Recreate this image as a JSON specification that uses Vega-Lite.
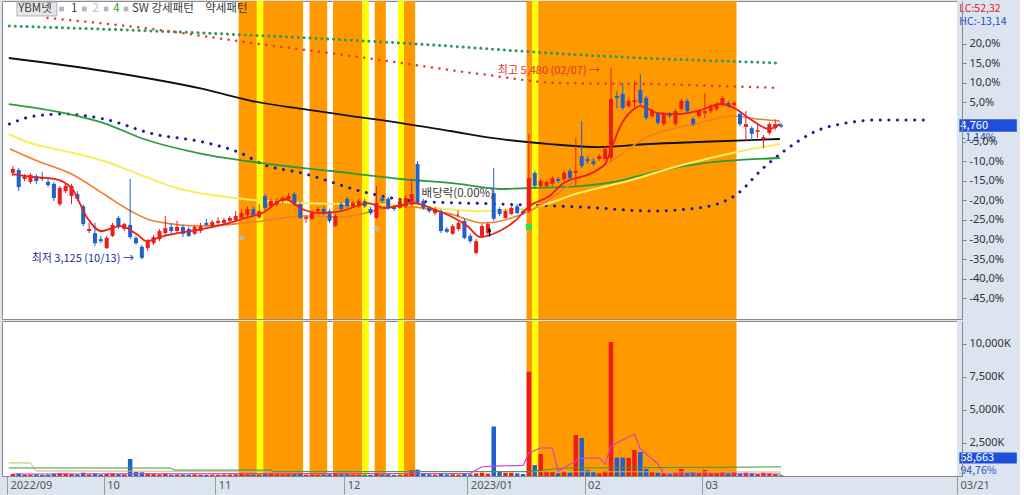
{
"$schema":"https://vega.github.io/schema/vega-lite/v6.json",
"background":"#dbe4ef",
"padding":{"left":1,"top":0,"right":0,"bottom":2},
"config":{"concat":{"spacing":0},"view":{"stroke":"#8c8c8c","fill":"#ffffff"},"font":"Noto Sans CJK KR","axis":{"labelFont":"Noto Sans","labelFontSize":11,"labelColor":"#333333","domainColor":"#888888","tickColor":"#888888","grid":false,"zindex":1}},
"datasets":{
"candles":[
{"i":1,"o":4190,"h":4275,"l":4150,"c":4240,"v":150},{"i":2,"o":4225,"h":4250,"l":3965,"c":4015,"v":200},{"i":3,"o":4115,"h":4175,"l":4090,"c":4150,"v":120},{"i":4,"o":4080,"h":4190,"l":4055,"c":4165,"v":110},{"i":5,"o":4150,"h":4175,"l":4055,"c":4090,"v":130},{"i":6,"o":4140,"h":4200,"l":4090,"c":4115,"v":90},{"i":7,"o":4080,"h":4115,"l":4015,"c":4040,"v":100},{"i":8,"o":4055,"h":4080,"l":3845,"c":3880,"v":180},{"i":9,"o":3805,"h":4030,"l":3780,"c":4005,"v":220},{"i":10,"o":3965,"h":4055,"l":3940,"c":4030,"v":200},
{"i":11,"o":3905,"h":4055,"l":3805,"c":4030,"v":150},{"i":12,"o":3930,"h":3965,"l":3845,"c":3870,"v":120},{"i":13,"o":3780,"h":3805,"l":3535,"c":3560,"v":250},{"i":14,"o":3475,"h":3575,"l":3450,"c":3500,"v":130},{"i":15,"o":3450,"h":3575,"l":3290,"c":3325,"v":200},{"i":16,"o":3375,"h":3415,"l":3325,"c":3350,"v":120},{"i":17,"o":3265,"h":3415,"l":3255,"c":3390,"v":180},{"i":18,"o":3415,"h":3575,"l":3400,"c":3550,"v":200},{"i":19,"o":3635,"h":3660,"l":3500,"c":3525,"v":150},{"i":20,"o":3500,"h":3575,"l":3475,"c":3560,"v":130},
{"i":21,"o":3550,"h":4115,"l":3375,"c":3400,"v":1290},{"i":22,"o":3390,"h":3415,"l":3305,"c":3325,"v":300},{"i":23,"o":3280,"h":3305,"l":3125,"c":3145,"v":280},{"i":24,"o":3265,"h":3375,"l":3230,"c":3350,"v":200},{"i":25,"o":3325,"h":3425,"l":3305,"c":3400,"v":150},{"i":26,"o":3375,"h":3500,"l":3350,"c":3475,"v":120},{"i":27,"o":3450,"h":3660,"l":3415,"c":3510,"v":180},{"i":28,"o":3525,"h":3575,"l":3440,"c":3475,"v":100},{"i":29,"o":3475,"h":3600,"l":3450,"c":3525,"v":120},{"i":30,"o":3525,"h":3550,"l":3400,"c":3440,"v":110},
{"i":31,"o":3500,"h":3525,"l":3400,"c":3415,"v":100},{"i":32,"o":3440,"h":3550,"l":3425,"c":3525,"v":120},{"i":33,"o":3475,"h":3575,"l":3450,"c":3535,"v":90},{"i":34,"o":3575,"h":3625,"l":3535,"c":3550,"v":80},{"i":35,"o":3535,"h":3610,"l":3510,"c":3585,"v":100},{"i":36,"o":3575,"h":3645,"l":3550,"c":3600,"v":90},{"i":37,"o":3575,"h":3635,"l":3550,"c":3610,"v":100},{"i":38,"o":3600,"h":3660,"l":3575,"c":3635,"v":110},{"i":39,"o":3610,"h":3720,"l":3585,"c":3660,"v":120},{"i":40,"o":3635,"h":3745,"l":3610,"c":3695,"v":150},
{"i":41,"o":3670,"h":3780,"l":3645,"c":3745,"v":130},{"i":42,"o":3745,"h":3780,"l":3645,"c":3670,"v":100},{"i":43,"o":3645,"h":3805,"l":3625,"c":3720,"v":120},{"i":44,"o":3905,"h":3930,"l":3735,"c":3760,"v":200},{"i":45,"o":3780,"h":3870,"l":3760,"c":3845,"v":150},{"i":46,"o":3805,"h":3880,"l":3780,"c":3845,"v":120},{"i":47,"o":3845,"h":3905,"l":3820,"c":3880,"v":110},{"i":48,"o":3870,"h":3940,"l":3845,"c":3905,"v":120},{"i":49,"o":3930,"h":3955,"l":3780,"c":3805,"v":130},{"i":50,"o":3805,"h":3830,"l":3625,"c":3635,"v":180},
{"i":51,"o":3625,"h":3670,"l":3575,"c":3645,"v":100},{"i":52,"o":3625,"h":3720,"l":3610,"c":3695,"v":110},{"i":53,"o":3720,"h":3770,"l":3695,"c":3745,"v":90},{"i":54,"o":3745,"h":3780,"l":3670,"c":3685,"v":100},{"i":55,"o":3720,"h":3745,"l":3575,"c":3600,"v":130},{"i":56,"o":3535,"h":3685,"l":3525,"c":3660,"v":150},{"i":57,"o":3805,"h":3830,"l":3720,"c":3745,"v":120},{"i":58,"o":3870,"h":3895,"l":3760,"c":3780,"v":130},{"i":59,"o":3780,"h":3845,"l":3770,"c":3820,"v":90},{"i":60,"o":3780,"h":3870,"l":3760,"c":3845,"v":100},
{"i":61,"o":3845,"h":3870,"l":3760,"c":3780,"v":100},{"i":62,"o":3745,"h":3770,"l":3670,"c":3695,"v":90},{"i":63,"o":3635,"h":4030,"l":3625,"c":3820,"v":200},{"i":64,"o":3880,"h":3905,"l":3820,"c":3845,"v":110},{"i":65,"o":3870,"h":3895,"l":3735,"c":3760,"v":130},{"i":66,"o":3770,"h":3795,"l":3720,"c":3745,"v":90},{"i":67,"o":3760,"h":3870,"l":3745,"c":3845,"v":100},{"i":68,"o":3780,"h":3905,"l":3760,"c":3880,"v":120},{"i":69,"o":3805,"h":4115,"l":3780,"c":3930,"v":450},{"i":70,"o":4300,"h":4335,"l":3795,"c":3820,"v":480},
{"i":71,"o":3845,"h":3870,"l":3735,"c":3760,"v":200},{"i":72,"o":3760,"h":3780,"l":3695,"c":3720,"v":130},{"i":73,"o":3695,"h":3770,"l":3670,"c":3745,"v":110},{"i":74,"o":3720,"h":3745,"l":3450,"c":3475,"v":200},{"i":75,"o":3500,"h":3525,"l":3450,"c":3465,"v":120},{"i":76,"o":3440,"h":3560,"l":3425,"c":3535,"v":130},{"i":77,"o":3500,"h":3600,"l":3475,"c":3575,"v":110},{"i":78,"o":3600,"h":3625,"l":3375,"c":3390,"v":150},{"i":79,"o":3415,"h":3440,"l":3325,"c":3350,"v":130},{"i":80,"o":3205,"h":3375,"l":3190,"c":3350,"v":200},
{"i":81,"o":3415,"h":3560,"l":3390,"c":3535,"v":250},{"i":82,"o":3450,"h":3585,"l":3425,"c":3560,"v":180},{"i":83,"o":3940,"h":4250,"l":3600,"c":3625,"v":3750},{"i":84,"o":3745,"h":3770,"l":3660,"c":3685,"v":300},{"i":85,"o":3635,"h":3745,"l":3625,"c":3720,"v":250},{"i":86,"o":3685,"h":3780,"l":3670,"c":3760,"v":250},{"i":87,"o":3780,"h":3805,"l":3685,"c":3695,"v":200},{"i":88,"o":3720,"h":3745,"l":3670,"c":3695,"v":150},{"i":89,"o":3720,"h":4670,"l":3695,"c":4125,"v":7900},{"i":90,"o":4190,"h":4215,"l":4005,"c":4030,"v":830},
{"i":91,"o":4030,"h":4115,"l":4005,"c":4090,"v":1660},{"i":92,"o":4030,"h":4100,"l":4005,"c":4080,"v":350},{"i":93,"o":4055,"h":4150,"l":4030,"c":4125,"v":300},{"i":94,"o":4115,"h":4140,"l":4065,"c":4090,"v":200},{"i":95,"o":4115,"h":4215,"l":4090,"c":4190,"v":350},{"i":96,"o":4215,"h":4240,"l":4100,"c":4125,"v":250},{"i":97,"o":4190,"h":4620,"l":4030,"c":4215,"v":3100},{"i":98,"o":4395,"h":4830,"l":4250,"c":4275,"v":2880},{"i":99,"o":4360,"h":4395,"l":4300,"c":4335,"v":450},{"i":100,"o":4335,"h":4375,"l":4275,"c":4300,"v":300},
{"i":101,"o":4360,"h":4420,"l":4335,"c":4395,"v":200},{"i":102,"o":4360,"h":4520,"l":4335,"c":4485,"v":380},{"i":103,"o":4375,"h":5480,"l":4335,"c":5100,"v":10150},{"i":104,"o":5135,"h":5195,"l":4990,"c":5110,"v":1390},{"i":105,"o":5160,"h":5295,"l":4965,"c":4990,"v":1390},{"i":106,"o":5010,"h":5100,"l":4990,"c":5075,"v":1370},{"i":107,"o":5060,"h":5320,"l":4990,"c":5085,"v":1970},{"i":108,"o":5210,"h":5405,"l":5025,"c":5050,"v":1820},{"i":109,"o":5110,"h":5135,"l":4840,"c":4865,"v":530},{"i":110,"o":4890,"h":4975,"l":4865,"c":4950,"v":300},
{"i":111,"o":4915,"h":4940,"l":4780,"c":4805,"v":250},{"i":112,"o":4790,"h":4940,"l":4765,"c":4915,"v":200},{"i":113,"o":4915,"h":4940,"l":4865,"c":4890,"v":150},{"i":114,"o":4790,"h":4975,"l":4765,"c":4950,"v":250},{"i":115,"o":4975,"h":5100,"l":4950,"c":5075,"v":530},{"i":116,"o":5075,"h":5100,"l":4925,"c":4950,"v":250},{"i":117,"o":4855,"h":4875,"l":4765,"c":4790,"v":300},{"i":118,"o":4890,"h":4975,"l":4865,"c":4950,"v":250},{"i":119,"o":4925,"h":5170,"l":4865,"c":4950,"v":450},{"i":120,"o":4950,"h":5035,"l":4925,"c":5010,"v":250},
{"i":121,"o":4975,"h":5060,"l":4950,"c":5035,"v":250},{"i":122,"o":5035,"h":5135,"l":5010,"c":5110,"v":300},{"i":123,"o":5050,"h":5075,"l":4990,"c":5010,"v":250},{"i":124,"o":5025,"h":5075,"l":5000,"c":5050,"v":300},{"i":125,"o":4915,"h":4940,"l":4765,"c":4790,"v":200},{"i":126,"o":4755,"h":4950,"l":4580,"c":4790,"v":250},{"i":127,"o":4740,"h":4765,"l":4580,"c":4670,"v":200},{"i":128,"o":4695,"h":4780,"l":4620,"c":4715,"v":150},{"i":129,"o":4605,"h":4655,"l":4495,"c":4630,"v":250},{"i":130,"o":4680,"h":4815,"l":4655,"c":4790,"v":200},
{"i":131,"o":4740,"h":4850,"l":4715,"c":4790,"v":150},{"i":132,"o":4780,"h":4805,"l":4740,"c":4760,"v":59}
],
"bands":[
{"i":39.5,"i2":42.6,"k":"강세"},{"i":42.6,"i2":43.7,"k":"신호"},{"i":43.7,"i2":50.5,"k":"강세"},{"i":51.6,"i2":54.6,"k":"강세"},{"i":55.6,"i2":60.6,"k":"강세"},{"i":60.6,"i2":61.7,"k":"신호"},{"i":62.7,"i2":64.6,"k":"강세"},{"i":66.7,"i2":67.7,"k":"신호"},{"i":67.7,"i2":69.6,"k":"강세"},{"i":88.6,"i2":89.6,"k":"강세"},{"i":89.6,"i2":90.6,"k":"신호"},{"i":90.6,"i2":124.4,"k":"강세"}
],
"ma240":[{"i":0.3,"p":5603},{"i":16.5,"p":5443},{"i":33.4,"p":5222},{"i":41.8,"p":5074},{"i":50.3,"p":4976},{"i":58.7,"p":4889},{"i":67.2,"p":4803},{"i":75.6,"p":4705},{"i":84,"p":4607},{"i":92.5,"p":4545},{"i":100.9,"p":4508},{"i":109.4,"p":4545},{"i":117.8,"p":4570},{"i":131.8,"p":4607}],
"ma120":[{"i":0.3,"p":5037},{"i":9.8,"p":4926},{"i":16.5,"p":4803},{"i":23.3,"p":4607},{"i":33.4,"p":4422},{"i":43.5,"p":4311},{"i":55.3,"p":4213},{"i":67.2,"p":4115},{"i":77.3,"p":4053},{"i":84,"p":3992},{"i":89.1,"p":4004},{"i":97.5,"p":4028},{"i":104.3,"p":4090},{"i":111,"p":4213},{"i":117.8,"p":4299},{"i":131.8,"p":4373}],
"ma60":[{"i":0.3,"p":4668},{"i":3,"p":4582},{"i":9.8,"p":4459},{"i":16.5,"p":4336},{"i":23.3,"p":4151},{"i":28.9,"p":4004},{"i":39,"p":3881},{"i":50.3,"p":3819},{"i":67.2,"p":3795},{"i":80.7,"p":3721},{"i":89.1,"p":3758},{"i":97.5,"p":3942},{"i":107.7,"p":4127},{"i":111.5,"p":4213},{"i":117.8,"p":4336},{"i":124.5,"p":4447},{"i":131.8,"p":4545}],
"ma20":[{"i":0.5,"p":4484},{"i":5.2,"p":4336},{"i":11,"p":4176},{"i":16.5,"p":3930},{"i":21.1,"p":3721},{"i":25,"p":3598},{"i":33.4,"p":3536},{"i":43.5,"p":3598},{"i":50.3,"p":3659},{"i":57,"p":3647},{"i":67.2,"p":3782},{"i":75.6,"p":3684},{"i":81.2,"p":3573},{"i":89.1,"p":3721},{"i":97.5,"p":4115},{"i":103.1,"p":4336},{"i":108.8,"p":4619},{"i":117.3,"p":4791},{"i":124,"p":4889},{"i":127.9,"p":4853},{"i":131.8,"p":4828}],
"ma5":[{"i":0.84,"p":4176},{"i":4.7,"p":4139},{"i":8.1,"p":4115},{"i":11,"p":4004},{"i":13.7,"p":3635},{"i":16,"p":3475},{"i":19.4,"p":3536},{"i":22.1,"p":3438},{"i":23.8,"p":3352},{"i":26.7,"p":3413},{"i":33.4,"p":3500},{"i":39,"p":3598},{"i":41.8,"p":3659},{"i":43.5,"p":3696},{"i":47.4,"p":3869},{"i":50.3,"p":3746},{"i":53.2,"p":3696},{"i":57,"p":3721},{"i":61.6,"p":3819},{"i":64.3,"p":3758},{"i":69.4,"p":3819},{"i":72.7,"p":3746},{"i":75.6,"p":3659},{"i":78.5,"p":3536},{"i":80.7,"p":3401},{"i":84,"p":3475},{"i":86.6,"p":3598},{"i":89.1,"p":3782},{"i":92.5,"p":3905},{"i":94.7,"p":4053},{"i":100.4,"p":4213},{"i":102.1,"p":4311},{"i":103.1,"p":4496},{"i":104.6,"p":4766},{"i":106.5,"p":4951},{"i":108,"p":5012},{"i":111,"p":4926},{"i":114.4,"p":4914},{"i":117.8,"p":4951},{"i":121.7,"p":5037},{"i":124,"p":4988},{"i":126.7,"p":4853},{"i":130,"p":4730},{"i":131.8,"p":4791}],
"dotg":[{"i":0.4,"p":5996},{"i":33.4,"p":5910},{"i":67.2,"p":5787},{"i":100.9,"p":5628},{"i":131.8,"p":5541}],
"dotr":[{"i":6.9,"p":6095},{"i":23.3,"p":5972},{"i":41.8,"p":5787},{"i":58.7,"p":5628},{"i":80.7,"p":5406},{"i":94.2,"p":5295},{"i":109.4,"p":5283},{"i":131.8,"p":5234}],
"dotb":[{"i":0.4,"p":4791},{"i":4.7,"p":4889},{"i":9.8,"p":4914},{"i":16.5,"p":4853},{"i":25,"p":4668},{"i":33.4,"p":4570},{"i":40.2,"p":4422},{"i":43.5,"p":4299},{"i":50.3,"p":4188},{"i":61.6,"p":3942},{"i":69.4,"p":3844},{"i":84,"p":3807},{"i":100.9,"p":3758},{"i":109.4,"p":3721},{"i":117.8,"p":3758},{"i":124.5,"p":3930},{"i":128.8,"p":4238},{"i":133,"p":4484},{"i":138,"p":4705},{"i":143.1,"p":4803},{"i":148.2,"p":4840},{"i":156.6,"p":4840}],
"vpink":[{"i":1,"v":150},{"i":79,"v":200},{"i":81,"v":700},{"i":84,"v":760},{"i":88,"v":800},{"i":89,"v":1740},{"i":91,"v":2120},{"i":93,"v":2120},{"i":94,"v":380},{"i":97,"v":1140},{"i":98,"v":1360},{"i":101,"v":1360},{"i":102,"v":910},{"i":103,"v":2270},{"i":107,"v":3180},{"i":108,"v":2045},{"i":111,"v":910},{"i":112,"v":150},{"i":132,"v":150}],
"vgreen":[{"i":0.3,"v":610},{"i":28,"v":600},{"i":28.5,"v":450},{"i":45,"v":450},{"i":45.5,"v":330},{"i":89,"v":330},{"i":95,"v":600},{"i":132,"v":690}],
"volive":[{"i":0.3,"v":990},{"i":4,"v":990},{"i":5,"v":380},{"i":132,"v":300}]
},
"vconcat":[
{
"width":960,"height":318,
"layer":[
{"data":{"values":[{"i":162,"i2":172.5,"p":2393,"p2":6304}]},"mark":{"type":"rect","color":"#dbe4ef"},"encoding":{"x":{"field":"i","type":"quantitative","scale":{"domain":[0,162],"nice":false,"zero":false},"axis":null},"x2":{"field":"i2"},"y":{"field":"p","type":"quantitative","scale":{"domain":[2393,6304],"nice":false,"zero":false},"axis":{"orient":"right","zindex":1,"values":[2648.25,2889,3129.75,3370.5,3611.25,3852,4092.75,4333.5,4574.25,5055.75,5296.5,5537.25,5778],"labelExpr":"(datum.value < 4814 ? '-' : '') + replace(format(abs(datum.value/4815-1)*100, '.1f'), '.', ',') + '%'","tickSize":4,"labelPadding":3,"title":null}},"y2":{"field":"p2"}}},
{"data":{"name":"bands"},"mark":{"type":"rect"},"encoding":{"x":{"field":"i","type":"quantitative","scale":{"domain":[0,162],"nice":false,"zero":false},"axis":null},"x2":{"field":"i2"},"color":{"field":"k","type":"nominal","scale":{"domain":["강세","신호"],"range":["#ff9900","#ffff00"]},"legend":null}}},
{"data":{"name":"dotg"},"mark":{"type":"line","color":"#2f9a5c","strokeWidth":3,"strokeDash":[0.1,5.8],"strokeCap":"round","interpolate":"monotone"},"encoding":{"x":{"field":"i","type":"quantitative","scale":{"domain":[0,162],"nice":false,"zero":false},"axis":null},"y":{"field":"p","type":"quantitative","scale":{"domain":[2393,6304],"nice":false,"zero":false},"axis":{"orient":"right","zindex":1,"values":[2648.25,2889,3129.75,3370.5,3611.25,3852,4092.75,4333.5,4574.25,5055.75,5296.5,5537.25,5778],"labelExpr":"(datum.value < 4814 ? '-' : '') + replace(format(abs(datum.value/4815-1)*100, '.1f'), '.', ',') + '%'","tickSize":4,"labelPadding":3,"title":null}}}},
{"data":{"name":"dotr"},"mark":{"type":"line","color":"#e03a3a","strokeWidth":2.5,"strokeDash":[0.1,7.5],"strokeCap":"round","interpolate":"monotone"},"encoding":{"x":{"field":"i","type":"quantitative","scale":{"domain":[0,162],"nice":false,"zero":false},"axis":null},"y":{"field":"p","type":"quantitative","scale":{"domain":[2393,6304],"nice":false,"zero":false},"axis":{"orient":"right","zindex":1,"values":[2648.25,2889,3129.75,3370.5,3611.25,3852,4092.75,4333.5,4574.25,5055.75,5296.5,5537.25,5778],"labelExpr":"(datum.value < 4814 ? '-' : '') + replace(format(abs(datum.value/4815-1)*100, '.1f'), '.', ',') + '%'","tickSize":4,"labelPadding":3,"title":null}}}},
{"data":{"name":"dotb"},"mark":{"type":"line","color":"#1c1c9c","strokeWidth":3,"strokeDash":[0.1,8.5],"strokeCap":"round","interpolate":"monotone"},"encoding":{"x":{"field":"i","type":"quantitative","scale":{"domain":[0,162],"nice":false,"zero":false},"axis":null},"y":{"field":"p","type":"quantitative","scale":{"domain":[2393,6304],"nice":false,"zero":false},"axis":{"orient":"right","zindex":1,"values":[2648.25,2889,3129.75,3370.5,3611.25,3852,4092.75,4333.5,4574.25,5055.75,5296.5,5537.25,5778],"labelExpr":"(datum.value < 4814 ? '-' : '') + replace(format(abs(datum.value/4815-1)*100, '.1f'), '.', ',') + '%'","tickSize":4,"labelPadding":3,"title":null}}}},
{"data":{"name":"ma240"},"mark":{"type":"line","color":"#111111","strokeWidth":1.8,"interpolate":"monotone"},"encoding":{"x":{"field":"i","type":"quantitative","scale":{"domain":[0,162],"nice":false,"zero":false},"axis":null},"y":{"field":"p","type":"quantitative","scale":{"domain":[2393,6304],"nice":false,"zero":false},"axis":{"orient":"right","zindex":1,"values":[2648.25,2889,3129.75,3370.5,3611.25,3852,4092.75,4333.5,4574.25,5055.75,5296.5,5537.25,5778],"labelExpr":"(datum.value < 4814 ? '-' : '') + replace(format(abs(datum.value/4815-1)*100, '.1f'), '.', ',') + '%'","tickSize":4,"labelPadding":3,"title":null}}}},
{"data":{"name":"ma120"},"mark":{"type":"line","color":"#2e9a3a","strokeWidth":1.8,"interpolate":"monotone"},"encoding":{"x":{"field":"i","type":"quantitative","scale":{"domain":[0,162],"nice":false,"zero":false},"axis":null},"y":{"field":"p","type":"quantitative","scale":{"domain":[2393,6304],"nice":false,"zero":false},"axis":{"orient":"right","zindex":1,"values":[2648.25,2889,3129.75,3370.5,3611.25,3852,4092.75,4333.5,4574.25,5055.75,5296.5,5537.25,5778],"labelExpr":"(datum.value < 4814 ? '-' : '') + replace(format(abs(datum.value/4815-1)*100, '.1f'), '.', ',') + '%'","tickSize":4,"labelPadding":3,"title":null}}}},
{"data":{"name":"ma60"},"mark":{"type":"line","color":"#f4ee60","strokeWidth":2,"interpolate":"monotone"},"encoding":{"x":{"field":"i","type":"quantitative","scale":{"domain":[0,162],"nice":false,"zero":false},"axis":null},"y":{"field":"p","type":"quantitative","scale":{"domain":[2393,6304],"nice":false,"zero":false},"axis":{"orient":"right","zindex":1,"values":[2648.25,2889,3129.75,3370.5,3611.25,3852,4092.75,4333.5,4574.25,5055.75,5296.5,5537.25,5778],"labelExpr":"(datum.value < 4814 ? '-' : '') + replace(format(abs(datum.value/4815-1)*100, '.1f'), '.', ',') + '%'","tickSize":4,"labelPadding":3,"title":null}}}},
{"data":{"name":"ma20"},"mark":{"type":"line","color":"#f07d2a","strokeWidth":1.6,"interpolate":"monotone"},"encoding":{"x":{"field":"i","type":"quantitative","scale":{"domain":[0,162],"nice":false,"zero":false},"axis":null},"y":{"field":"p","type":"quantitative","scale":{"domain":[2393,6304],"nice":false,"zero":false},"axis":{"orient":"right","zindex":1,"values":[2648.25,2889,3129.75,3370.5,3611.25,3852,4092.75,4333.5,4574.25,5055.75,5296.5,5537.25,5778],"labelExpr":"(datum.value < 4814 ? '-' : '') + replace(format(abs(datum.value/4815-1)*100, '.1f'), '.', ',') + '%'","tickSize":4,"labelPadding":3,"title":null}}}},
{"data":{"name":"candles"},"mark":{"type":"rule","strokeWidth":1},"encoding":{"x":{"field":"i","type":"quantitative","scale":{"domain":[0,162],"nice":false,"zero":false},"axis":null},"y":{"field":"l","type":"quantitative","scale":{"domain":[2393,6304],"nice":false,"zero":false},"axis":{"orient":"right","zindex":1,"values":[2648.25,2889,3129.75,3370.5,3611.25,3852,4092.75,4333.5,4574.25,5055.75,5296.5,5537.25,5778],"labelExpr":"(datum.value < 4814 ? '-' : '') + replace(format(abs(datum.value/4815-1)*100, '.1f'), '.', ',') + '%'","tickSize":4,"labelPadding":3,"title":null}},"y2":{"field":"h"},"color":{"condition":{"test":"datum.c >= datum.o","value":"#ee1c1c"},"value":"#2060d0"}}},
{"data":{"name":"candles"},"mark":{"type":"bar","size":4,"orient":"vertical"},"encoding":{"x":{"field":"i","type":"quantitative","scale":{"domain":[0,162],"nice":false,"zero":false},"axis":null},"y":{"field":"o","type":"quantitative","scale":{"domain":[2393,6304],"nice":false,"zero":false},"axis":{"orient":"right","zindex":1,"values":[2648.25,2889,3129.75,3370.5,3611.25,3852,4092.75,4333.5,4574.25,5055.75,5296.5,5537.25,5778],"labelExpr":"(datum.value < 4814 ? '-' : '') + replace(format(abs(datum.value/4815-1)*100, '.1f'), '.', ',') + '%'","tickSize":4,"labelPadding":3,"title":null}},"y2":{"field":"c"},"color":{"condition":{"test":"datum.c >= datum.o","value":"#ee1c1c"},"value":"#2060d0"}}},
{"data":{"name":"ma5"},"mark":{"type":"line","color":"#e8201a","strokeWidth":1.8,"interpolate":"monotone"},"encoding":{"x":{"field":"i","type":"quantitative","scale":{"domain":[0,162],"nice":false,"zero":false},"axis":null},"y":{"field":"p","type":"quantitative","scale":{"domain":[2393,6304],"nice":false,"zero":false},"axis":{"orient":"right","zindex":1,"values":[2648.25,2889,3129.75,3370.5,3611.25,3852,4092.75,4333.5,4574.25,5055.75,5296.5,5537.25,5778],"labelExpr":"(datum.value < 4814 ? '-' : '') + replace(format(abs(datum.value/4815-1)*100, '.1f'), '.', ',') + '%'","tickSize":4,"labelPadding":3,"title":null}}}},
{"data":{"values":[{"i":40,"p":3389},{"i":63,"p":3500}]},"mark":{"type":"point","shape":"M0,-1L0.22,-0.31L0.95,-0.31L0.36,0.12L0.59,0.81L0,0.38L-0.59,0.81L-0.36,0.12L-0.95,-0.31L-0.22,-0.31Z","filled":true,"color":"#b8bccb","size":70,"opacity":1},"encoding":{"x":{"field":"i","type":"quantitative","scale":{"domain":[0,162],"nice":false,"zero":false},"axis":null},"y":{"field":"p","type":"quantitative","scale":{"domain":[2393,6304],"nice":false,"zero":false},"axis":{"orient":"right","zindex":1,"values":[2648.25,2889,3129.75,3370.5,3611.25,3852,4092.75,4333.5,4574.25,5055.75,5296.5,5537.25,5778],"labelExpr":"(datum.value < 4814 ? '-' : '') + replace(format(abs(datum.value/4815-1)*100, '.1f'), '.', ',') + '%'","tickSize":4,"labelPadding":3,"title":null}}}},
{"data":{"values":[{"i":82.3,"p":3463}]},"mark":{"type":"point","shape":"arrow","filled":true,"color":"#000000","size":80,"opacity":1},"encoding":{"x":{"field":"i","type":"quantitative","scale":{"domain":[0,162],"nice":false,"zero":false},"axis":null},"y":{"field":"p","type":"quantitative","scale":{"domain":[2393,6304],"nice":false,"zero":false},"axis":{"orient":"right","zindex":1,"values":[2648.25,2889,3129.75,3370.5,3611.25,3852,4092.75,4333.5,4574.25,5055.75,5296.5,5537.25,5778],"labelExpr":"(datum.value < 4814 ? '-' : '') + replace(format(abs(datum.value/4815-1)*100, '.1f'), '.', ',') + '%'","tickSize":4,"labelPadding":3,"title":null}}}},
{"data":{"values":[{"i":76.9,"p":3684}]},"mark":{"type":"point","shape":"arrow","angle":180,"filled":true,"color":"#e02020","size":50,"opacity":1},"encoding":{"x":{"field":"i","type":"quantitative","scale":{"domain":[0,162],"nice":false,"zero":false},"axis":null},"y":{"field":"p","type":"quantitative","scale":{"domain":[2393,6304],"nice":false,"zero":false},"axis":{"orient":"right","zindex":1,"values":[2648.25,2889,3129.75,3370.5,3611.25,3852,4092.75,4333.5,4574.25,5055.75,5296.5,5537.25,5778],"labelExpr":"(datum.value < 4814 ? '-' : '') + replace(format(abs(datum.value/4815-1)*100, '.1f'), '.', ',') + '%'","tickSize":4,"labelPadding":3,"title":null}}}},
{"data":{"values":[{"i":89,"p":3524}]},"mark":{"type":"point","shape":"square","filled":true,"color":"#33dd44","size":40,"opacity":1},"encoding":{"x":{"field":"i","type":"quantitative","scale":{"domain":[0,162],"nice":false,"zero":false},"axis":null},"y":{"field":"p","type":"quantitative","scale":{"domain":[2393,6304],"nice":false,"zero":false},"axis":{"orient":"right","zindex":1,"values":[2648.25,2889,3129.75,3370.5,3611.25,3852,4092.75,4333.5,4574.25,5055.75,5296.5,5537.25,5778],"labelExpr":"(datum.value < 4814 ? '-' : '') + replace(format(abs(datum.value/4815-1)*100, '.1f'), '.', ',') + '%'","tickSize":4,"labelPadding":3,"title":null}}}},
{"data":{"values":[{"i":1.7,"i2":8.5,"p":6120,"p2":6292}]},"mark":{"type":"rect","color":"#e6e6e6","stroke":"#b0b0b0","strokeWidth":1},"encoding":{"x":{"field":"i","type":"quantitative","scale":{"domain":[0,162],"nice":false,"zero":false},"axis":null},"x2":{"field":"i2"},"y":{"field":"p","type":"quantitative","scale":{"domain":[2393,6304],"nice":false,"zero":false},"axis":{"orient":"right","zindex":1,"values":[2648.25,2889,3129.75,3370.5,3611.25,3852,4092.75,4333.5,4574.25,5055.75,5296.5,5537.25,5778],"labelExpr":"(datum.value < 4814 ? '-' : '') + replace(format(abs(datum.value/4815-1)*100, '.1f'), '.', ',') + '%'","tickSize":4,"labelPadding":3,"title":null}},"y2":{"field":"p2"}}},
{"data":{"values":[{"i":162.4,"i2":172.2,"p":4696,"p2":4849}]},"mark":{"type":"rect","color":"#1f4fd8"},"encoding":{"x":{"field":"i","type":"quantitative","scale":{"domain":[0,162],"nice":false,"zero":false},"axis":null},"x2":{"field":"i2"},"y":{"field":"p","type":"quantitative","scale":{"domain":[2393,6304],"nice":false,"zero":false},"axis":{"orient":"right","zindex":1,"values":[2648.25,2889,3129.75,3370.5,3611.25,3852,4092.75,4333.5,4574.25,5055.75,5296.5,5537.25,5778],"labelExpr":"(datum.value < 4814 ? '-' : '') + replace(format(abs(datum.value/4815-1)*100, '.1f'), '.', ',') + '%'","tickSize":4,"labelPadding":3,"title":null}},"y2":{"field":"p2"}}},
{"data":{"values":[{"i":9.3,"p":6206},{"i":13.2,"p":6206},{"i":16.9,"p":6206},{"i":20.3,"p":6206}]},"mark":{"type":"point","shape":"square","filled":true,"color":"#b4b4c4","size":22,"opacity":1},"encoding":{"x":{"field":"i","type":"quantitative","scale":{"domain":[0,162],"nice":false,"zero":false},"axis":null},"y":{"field":"p","type":"quantitative","scale":{"domain":[2393,6304],"nice":false,"zero":false},"axis":{"orient":"right","zindex":1,"values":[2648.25,2889,3129.75,3370.5,3611.25,3852,4092.75,4333.5,4574.25,5055.75,5296.5,5537.25,5778],"labelExpr":"(datum.value < 4814 ? '-' : '') + replace(format(abs(datum.value/4815-1)*100, '.1f'), '.', ',') + '%'","tickSize":4,"labelPadding":3,"title":null}}}},
{"data":{"values":[{"i":4.2,"p":3130,"t":"최저 3,125 (10/13) →"}]},"mark":{"type":"text","align":"left","baseline":"middle","fontSize":11,"color":"#1a2b9b"},"encoding":{"x":{"field":"i","type":"quantitative","scale":{"domain":[0,162],"nice":false,"zero":false},"axis":null},"y":{"field":"p","type":"quantitative","scale":{"domain":[2393,6304],"nice":false,"zero":false},"axis":{"orient":"right","zindex":1,"values":[2648.25,2889,3129.75,3370.5,3611.25,3852,4092.75,4333.5,4574.25,5055.75,5296.5,5537.25,5778],"labelExpr":"(datum.value < 4814 ? '-' : '') + replace(format(abs(datum.value/4815-1)*100, '.1f'), '.', ',') + '%'","tickSize":4,"labelPadding":3,"title":null}},"text":{"field":"t"}}},
{"data":{"values":[{"i":83.7,"p":5443,"t":"최고 5,480 (02/07) →"}]},"mark":{"type":"text","align":"left","baseline":"middle","fontSize":11,"color":"#e03030"},"encoding":{"x":{"field":"i","type":"quantitative","scale":{"domain":[0,162],"nice":false,"zero":false},"axis":null},"y":{"field":"p","type":"quantitative","scale":{"domain":[2393,6304],"nice":false,"zero":false},"axis":{"orient":"right","zindex":1,"values":[2648.25,2889,3129.75,3370.5,3611.25,3852,4092.75,4333.5,4574.25,5055.75,5296.5,5537.25,5778],"labelExpr":"(datum.value < 4814 ? '-' : '') + replace(format(abs(datum.value/4815-1)*100, '.1f'), '.', ',') + '%'","tickSize":4,"labelPadding":3,"title":null}},"text":{"field":"t"}}},
{"data":{"values":[{"i":70.7,"p":3930,"t":"배당락(0.00%)"},{"i":1.9,"p":6206,"t":"YBM넷"},{"i":10.9,"p":6206,"t":"1"},{"i":21.3,"p":6206,"t":"SW 강세패턴"},{"i":33.8,"p":6206,"t":"약세패턴"}]},"mark":{"type":"text","align":"left","baseline":"middle","fontSize":11.5,"color":"#3a3a3a"},"encoding":{"x":{"field":"i","type":"quantitative","scale":{"domain":[0,162],"nice":false,"zero":false},"axis":null},"y":{"field":"p","type":"quantitative","scale":{"domain":[2393,6304],"nice":false,"zero":false},"axis":{"orient":"right","zindex":1,"values":[2648.25,2889,3129.75,3370.5,3611.25,3852,4092.75,4333.5,4574.25,5055.75,5296.5,5537.25,5778],"labelExpr":"(datum.value < 4814 ? '-' : '') + replace(format(abs(datum.value/4815-1)*100, '.1f'), '.', ',') + '%'","tickSize":4,"labelPadding":3,"title":null}},"text":{"field":"t"}}},
{"data":{"values":[{"i":14.6,"p":6206,"t":"2"}]},"mark":{"type":"text","align":"left","baseline":"middle","fontSize":11.5,"color":"#c0c0c0"},"encoding":{"x":{"field":"i","type":"quantitative","scale":{"domain":[0,162],"nice":false,"zero":false},"axis":null},"y":{"field":"p","type":"quantitative","scale":{"domain":[2393,6304],"nice":false,"zero":false},"axis":{"orient":"right","zindex":1,"values":[2648.25,2889,3129.75,3370.5,3611.25,3852,4092.75,4333.5,4574.25,5055.75,5296.5,5537.25,5778],"labelExpr":"(datum.value < 4814 ? '-' : '') + replace(format(abs(datum.value/4815-1)*100, '.1f'), '.', ',') + '%'","tickSize":4,"labelPadding":3,"title":null}},"text":{"field":"t"}}},
{"data":{"values":[{"i":18.1,"p":6206,"t":"4"}]},"mark":{"type":"text","align":"left","baseline":"middle","fontSize":11.5,"color":"#2ca02c"},"encoding":{"x":{"field":"i","type":"quantitative","scale":{"domain":[0,162],"nice":false,"zero":false},"axis":null},"y":{"field":"p","type":"quantitative","scale":{"domain":[2393,6304],"nice":false,"zero":false},"axis":{"orient":"right","zindex":1,"values":[2648.25,2889,3129.75,3370.5,3611.25,3852,4092.75,4333.5,4574.25,5055.75,5296.5,5537.25,5778],"labelExpr":"(datum.value < 4814 ? '-' : '') + replace(format(abs(datum.value/4815-1)*100, '.1f'), '.', ',') + '%'","tickSize":4,"labelPadding":3,"title":null}},"text":{"field":"t"}}},
{"data":{"values":[{"i":162.4,"p":6200,"t":"LC:52,32"}]},"mark":{"type":"text","align":"left","baseline":"middle","fontSize":10.5,"color":"#e02020"},"encoding":{"x":{"field":"i","type":"quantitative","scale":{"domain":[0,162],"nice":false,"zero":false},"axis":null},"y":{"field":"p","type":"quantitative","scale":{"domain":[2393,6304],"nice":false,"zero":false},"axis":{"orient":"right","zindex":1,"values":[2648.25,2889,3129.75,3370.5,3611.25,3852,4092.75,4333.5,4574.25,5055.75,5296.5,5537.25,5778],"labelExpr":"(datum.value < 4814 ? '-' : '') + replace(format(abs(datum.value/4815-1)*100, '.1f'), '.', ',') + '%'","tickSize":4,"labelPadding":3,"title":null}},"text":{"field":"t"}}},
{"data":{"values":[{"i":162.4,"p":6040,"t":"HC:-13,14"},{"i":162.8,"p":4614,"t":"-1,14%"}]},"mark":{"type":"text","align":"left","baseline":"middle","fontSize":10.5,"color":"#2050c0"},"encoding":{"x":{"field":"i","type":"quantitative","scale":{"domain":[0,162],"nice":false,"zero":false},"axis":null},"y":{"field":"p","type":"quantitative","scale":{"domain":[2393,6304],"nice":false,"zero":false},"axis":{"orient":"right","zindex":1,"values":[2648.25,2889,3129.75,3370.5,3611.25,3852,4092.75,4333.5,4574.25,5055.75,5296.5,5537.25,5778],"labelExpr":"(datum.value < 4814 ? '-' : '') + replace(format(abs(datum.value/4815-1)*100, '.1f'), '.', ',') + '%'","tickSize":4,"labelPadding":3,"title":null}},"text":{"field":"t"}}},
{"data":{"values":[{"i":162.6,"p":4772,"t":"4,760"}]},"mark":{"type":"text","align":"left","baseline":"middle","fontSize":11,"color":"#ffffff"},"encoding":{"x":{"field":"i","type":"quantitative","scale":{"domain":[0,162],"nice":false,"zero":false},"axis":null},"y":{"field":"p","type":"quantitative","scale":{"domain":[2393,6304],"nice":false,"zero":false},"axis":{"orient":"right","zindex":1,"values":[2648.25,2889,3129.75,3370.5,3611.25,3852,4092.75,4333.5,4574.25,5055.75,5296.5,5537.25,5778],"labelExpr":"(datum.value < 4814 ? '-' : '') + replace(format(abs(datum.value/4815-1)*100, '.1f'), '.', ',') + '%'","tickSize":4,"labelPadding":3,"title":null}},"text":{"field":"t"}}}
]
},
{
"width":960,"height":155,
"layer":[
{"data":{"values":[{"i":162,"i2":172.5,"v":-1400,"v2":11740},{"i":0,"i2":162,"v":-1400,"v2":0}]},"mark":{"type":"rect","color":"#dbe4ef"},"encoding":{"x":{"field":"i","type":"quantitative","scale":{"domain":[0,162],"nice":false,"zero":false},"axis":{"zindex":1,"values":[0,16.5,35.5,57.5,78.5,98.5,118.5,162],"labelExpr":"datum.value < 1 ? '2022/09' : datum.value < 20 ? '10' : datum.value < 40 ? '11' : datum.value < 60 ? '12' : datum.value < 80 ? '2023/01' : datum.value < 100 ? '02' : datum.value < 120 ? '03' : '03/21'","tickSize":18,"labelPadding":-9,"labelBaseline":"middle","labelAlign":"left","labelOffset":3,"labelColor":"#555555","labelFlush":false,"labelOverlap":false,"tickColor":"#999999","title":null}},"x2":{"field":"i2"},"y":{"field":"v","type":"quantitative","scale":{"domain":[0,11740],"nice":false},"axis":{"orient":"right","zindex":1,"values":[2500,5000,7500,10000],"labelExpr":"format(datum.value, ',') + 'K'","tickSize":4,"labelPadding":3,"title":null}},"y2":{"field":"v2"}}},
{"data":{"name":"bands"},"mark":{"type":"rect"},"encoding":{"x":{"field":"i","type":"quantitative","scale":{"domain":[0,162],"nice":false,"zero":false},"axis":{"zindex":1,"values":[0,16.5,35.5,57.5,78.5,98.5,118.5,162],"labelExpr":"datum.value < 1 ? '2022/09' : datum.value < 20 ? '10' : datum.value < 40 ? '11' : datum.value < 60 ? '12' : datum.value < 80 ? '2023/01' : datum.value < 100 ? '02' : datum.value < 120 ? '03' : '03/21'","tickSize":18,"labelPadding":-9,"labelBaseline":"middle","labelAlign":"left","labelOffset":3,"labelColor":"#555555","labelFlush":false,"labelOverlap":false,"tickColor":"#999999","title":null}},"x2":{"field":"i2"},"color":{"field":"k","type":"nominal","scale":{"domain":["강세","신호"],"range":["#ff9900","#ffff00"]},"legend":null}}},
{"data":{"name":"candles"},"mark":{"type":"bar","size":4.5,"orient":"vertical"},"encoding":{"x":{"field":"i","type":"quantitative","scale":{"domain":[0,162],"nice":false,"zero":false},"axis":{"zindex":1,"values":[0,16.5,35.5,57.5,78.5,98.5,118.5,162],"labelExpr":"datum.value < 1 ? '2022/09' : datum.value < 20 ? '10' : datum.value < 40 ? '11' : datum.value < 60 ? '12' : datum.value < 80 ? '2023/01' : datum.value < 100 ? '02' : datum.value < 120 ? '03' : '03/21'","tickSize":18,"labelPadding":-9,"labelBaseline":"middle","labelAlign":"left","labelOffset":3,"labelColor":"#555555","labelFlush":false,"labelOverlap":false,"tickColor":"#999999","title":null}},"y":{"field":"v","type":"quantitative","scale":{"domain":[0,11740],"nice":false},"axis":{"orient":"right","zindex":1,"values":[2500,5000,7500,10000],"labelExpr":"format(datum.value, ',') + 'K'","tickSize":4,"labelPadding":3,"title":null}},"color":{"condition":{"test":"datum.c >= datum.o","value":"#ee1c1c"},"value":"#2060d0"}}},
{"data":{"name":"volive"},"mark":{"type":"line","color":"#c8b860","strokeWidth":1},"encoding":{"x":{"field":"i","type":"quantitative","scale":{"domain":[0,162],"nice":false,"zero":false},"axis":{"zindex":1,"values":[0,16.5,35.5,57.5,78.5,98.5,118.5,162],"labelExpr":"datum.value < 1 ? '2022/09' : datum.value < 20 ? '10' : datum.value < 40 ? '11' : datum.value < 60 ? '12' : datum.value < 80 ? '2023/01' : datum.value < 100 ? '02' : datum.value < 120 ? '03' : '03/21'","tickSize":18,"labelPadding":-9,"labelBaseline":"middle","labelAlign":"left","labelOffset":3,"labelColor":"#555555","labelFlush":false,"labelOverlap":false,"tickColor":"#999999","title":null}},"y":{"field":"v","type":"quantitative","scale":{"domain":[0,11740],"nice":false},"axis":{"orient":"right","zindex":1,"values":[2500,5000,7500,10000],"labelExpr":"format(datum.value, ',') + 'K'","tickSize":4,"labelPadding":3,"title":null}}}},
{"data":{"name":"vgreen"},"mark":{"type":"line","color":"#3a9a3a","strokeWidth":1},"encoding":{"x":{"field":"i","type":"quantitative","scale":{"domain":[0,162],"nice":false,"zero":false},"axis":{"zindex":1,"values":[0,16.5,35.5,57.5,78.5,98.5,118.5,162],"labelExpr":"datum.value < 1 ? '2022/09' : datum.value < 20 ? '10' : datum.value < 40 ? '11' : datum.value < 60 ? '12' : datum.value < 80 ? '2023/01' : datum.value < 100 ? '02' : datum.value < 120 ? '03' : '03/21'","tickSize":18,"labelPadding":-9,"labelBaseline":"middle","labelAlign":"left","labelOffset":3,"labelColor":"#555555","labelFlush":false,"labelOverlap":false,"tickColor":"#999999","title":null}},"y":{"field":"v","type":"quantitative","scale":{"domain":[0,11740],"nice":false},"axis":{"orient":"right","zindex":1,"values":[2500,5000,7500,10000],"labelExpr":"format(datum.value, ',') + 'K'","tickSize":4,"labelPadding":3,"title":null}}}},
{"data":{"name":"vpink"},"mark":{"type":"line","color":"#d045c8","strokeWidth":1.2},"encoding":{"x":{"field":"i","type":"quantitative","scale":{"domain":[0,162],"nice":false,"zero":false},"axis":{"zindex":1,"values":[0,16.5,35.5,57.5,78.5,98.5,118.5,162],"labelExpr":"datum.value < 1 ? '2022/09' : datum.value < 20 ? '10' : datum.value < 40 ? '11' : datum.value < 60 ? '12' : datum.value < 80 ? '2023/01' : datum.value < 100 ? '02' : datum.value < 120 ? '03' : '03/21'","tickSize":18,"labelPadding":-9,"labelBaseline":"middle","labelAlign":"left","labelOffset":3,"labelColor":"#555555","labelFlush":false,"labelOverlap":false,"tickColor":"#999999","title":null}},"y":{"field":"v","type":"quantitative","scale":{"domain":[0,11740],"nice":false},"axis":{"orient":"right","zindex":1,"values":[2500,5000,7500,10000],"labelExpr":"format(datum.value, ',') + 'K'","tickSize":4,"labelPadding":3,"title":null}}}},
{"data":{"values":[{"i":162.4,"i2":172.2,"v":947,"v2":1780}]},"mark":{"type":"rect","color":"#1f4fd8"},"encoding":{"x":{"field":"i","type":"quantitative","scale":{"domain":[0,162],"nice":false,"zero":false},"axis":{"zindex":1,"values":[0,16.5,35.5,57.5,78.5,98.5,118.5,162],"labelExpr":"datum.value < 1 ? '2022/09' : datum.value < 20 ? '10' : datum.value < 40 ? '11' : datum.value < 60 ? '12' : datum.value < 80 ? '2023/01' : datum.value < 100 ? '02' : datum.value < 120 ? '03' : '03/21'","tickSize":18,"labelPadding":-9,"labelBaseline":"middle","labelAlign":"left","labelOffset":3,"labelColor":"#555555","labelFlush":false,"labelOverlap":false,"tickColor":"#999999","title":null}},"x2":{"field":"i2"},"y":{"field":"v","type":"quantitative","scale":{"domain":[0,11740],"nice":false},"axis":{"orient":"right","zindex":1,"values":[2500,5000,7500,10000],"labelExpr":"format(datum.value, ',') + 'K'","tickSize":4,"labelPadding":3,"title":null}},"y2":{"field":"v2"}}},
{"data":{"values":[{"i":162.6,"v":1364,"t":"58,663"}]},"mark":{"type":"text","align":"left","baseline":"middle","fontSize":11,"color":"#ffffff"},"encoding":{"x":{"field":"i","type":"quantitative","scale":{"domain":[0,162],"nice":false,"zero":false},"axis":{"zindex":1,"values":[0,16.5,35.5,57.5,78.5,98.5,118.5,162],"labelExpr":"datum.value < 1 ? '2022/09' : datum.value < 20 ? '10' : datum.value < 40 ? '11' : datum.value < 60 ? '12' : datum.value < 80 ? '2023/01' : datum.value < 100 ? '02' : datum.value < 120 ? '03' : '03/21'","tickSize":18,"labelPadding":-9,"labelBaseline":"middle","labelAlign":"left","labelOffset":3,"labelColor":"#555555","labelFlush":false,"labelOverlap":false,"tickColor":"#999999","title":null}},"y":{"field":"v","type":"quantitative","scale":{"domain":[0,11740],"nice":false},"axis":{"orient":"right","zindex":1,"values":[2500,5000,7500,10000],"labelExpr":"format(datum.value, ',') + 'K'","tickSize":4,"labelPadding":3,"title":null}},"text":{"field":"t"}}},
{"data":{"values":[{"i":162.6,"v":360,"t":"94,76%"}]},"mark":{"type":"text","align":"left","baseline":"middle","fontSize":10.5,"color":"#2050c0"},"encoding":{"x":{"field":"i","type":"quantitative","scale":{"domain":[0,162],"nice":false,"zero":false},"axis":{"zindex":1,"values":[0,16.5,35.5,57.5,78.5,98.5,118.5,162],"labelExpr":"datum.value < 1 ? '2022/09' : datum.value < 20 ? '10' : datum.value < 40 ? '11' : datum.value < 60 ? '12' : datum.value < 80 ? '2023/01' : datum.value < 100 ? '02' : datum.value < 120 ? '03' : '03/21'","tickSize":18,"labelPadding":-9,"labelBaseline":"middle","labelAlign":"left","labelOffset":3,"labelColor":"#555555","labelFlush":false,"labelOverlap":false,"tickColor":"#999999","title":null}},"y":{"field":"v","type":"quantitative","scale":{"domain":[0,11740],"nice":false},"axis":{"orient":"right","zindex":1,"values":[2500,5000,7500,10000],"labelExpr":"format(datum.value, ',') + 'K'","tickSize":4,"labelPadding":3,"title":null}},"text":{"field":"t"}}}
]
}
]
}
